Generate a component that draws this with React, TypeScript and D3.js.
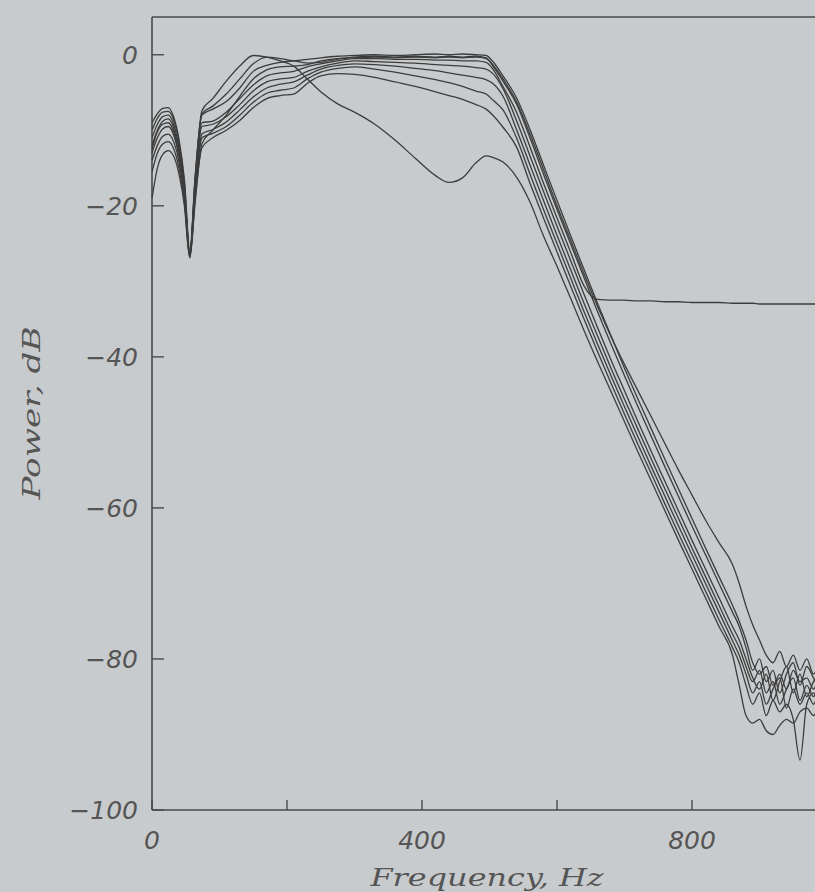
import React from "react";
import * as d3 from "d3";

// Frequency grid (Hz) shared by all spectra
const freq = [
  0, 8, 16, 24, 32, 40, 48, 56, 64, 74,
  90, 110, 130, 150, 170, 190, 210, 230, 250, 275,
  300, 330, 360, 390, 420, 440, 460, 480, 495, 505,
  520, 540, 560, 580, 600, 620, 640, 660, 680, 700,
  720, 740, 760, 780, 800, 820, 840, 860, 870, 880,
  890, 900, 910, 920, 930, 940, 950, 960, 970, 980,
  990, 1000,
];

// Power (dB) of each spectrum
const s1 = [
  -9, -7.8, -7.1, -7, -8.2, -11.2, -16.5, -26, -16, -8,
  -7.2, -6.2, -4.4, -2.2, -1.4, -1.0, -0.8, -0.6, -0.4, -0.2,
  -0.1, 0, -0.1, 0, 0.1, 0, 0.1, 0, -0.1, -0.9,
  -2.8, -5.7, -9.9, -14.6, -19.3, -23.9, -28.4, -32.9, -37.2, -41.5,
  -45.6, -49.6, -53.6, -57.5, -61.4, -65.3, -69.1, -72.9, -75, -77.5,
  -80.5, -82, -81, -83.5, -82, -84, -81.5, -83, -82.5, -84,
  -82, -83,
];
const s2 = [
  -10, -8.4, -7.6, -7.5, -8.6, -11.6, -17, -26.2, -16.5, -7.8,
  -6.8, -5.2, -3.2, -1.2, -0.3, -0.5, -0.8, -1.1, -1.0, -0.6,
  -0.3, -0.2, -0.3, -0.2, -0.3, -0.2, -0.3, -0.2, -0.4, -1.5,
  -3.5, -6.5, -11, -15.8, -20.5, -25, -29.5, -34, -38.3, -42.5,
  -46.6, -50.6, -54.6, -58.5, -62.4, -66.2, -70, -73.8, -75.7, -78.5,
  -81.5, -80, -83, -81.5, -84.5, -82, -80.5, -83.5, -81, -82.5,
  -84, -82,
];
const s3 = [
  -11, -9.2, -8.2, -8, -9.2, -12.3, -17.5, -26.4, -17, -9,
  -8.8, -7.6, -5.8, -4, -2.8, -2.4, -2.2, -1.6, -1.2, -0.8,
  -0.5, -0.5, -0.6, -0.6, -0.7, -0.7, -0.8, -0.8, -1.0, -1.9,
  -4.2, -7.6, -12.2, -17, -21.6, -26.1, -30.6, -32.4, -32.5, -32.5,
  -32.6, -32.6, -32.7, -32.7, -32.8, -32.8, -32.8, -32.9, -32.9, -32.9,
  -32.9, -33, -33, -33, -33, -33, -33, -33, -33, -33,
  -33, -33,
];
const s4 = [
  -12, -10, -8.8, -8.5, -9.7, -12.8, -18, -26.5, -17.5, -9.5,
  -9.2, -8.2, -6.6, -4.8, -3.6, -3.2, -3.0, -2.2, -1.6, -1.1,
  -0.8, -0.9, -1.0, -1.1, -1.3, -1.4, -1.5, -1.7, -1.9, -2.5,
  -4.5, -8.7, -13.4, -18.1, -22.7, -27.2, -31.7, -36.1, -40.4, -44.5,
  -48.6, -52.6, -56.5, -60.4, -64.3, -68.1, -71.9, -75.7, -77.5, -80,
  -82.5, -84, -82, -85.5, -83, -81, -84.5, -82, -85, -83,
  -82, -84,
];
const s5 = [
  -13, -11, -9.8, -9.5, -10.6, -13.5, -18.5, -26.6, -18, -10.5,
  -9.9, -8.9, -7.3, -5.6, -4.4, -3.9, -3.6, -2.7, -1.9, -1.4,
  -1.2, -1.3, -1.5, -1.8, -2.1, -2.4, -2.7, -3.0, -3.3, -3.8,
  -5.5, -9.9, -14.6, -19.3, -23.9, -28.4, -32.9, -37.2, -41.5, -45.6,
  -49.6, -53.6, -57.5, -61.4, -65.3, -69.1, -72.9, -76.7, -78.5, -81,
  -83, -81.5, -84.5, -83, -86, -84, -82.5, -85.5, -83.5, -85,
  -83, -84,
];
const s6 = [
  -14, -12, -10.8, -10.5, -11.5, -14.2, -19, -26.7, -18.5, -11,
  -10.4, -9.5, -8, -6.3, -5.1, -4.7, -4.4, -3.2, -2.3, -1.8,
  -1.6, -1.9, -2.3, -2.8, -3.3, -3.7, -4.2, -4.8, -5.2, -6.0,
  -7.3, -11, -15.8, -20.5, -25, -29.5, -34, -38.3, -42.5, -46.6,
  -50.6, -54.6, -58.5, -62.4, -66.2, -70, -73.8, -77.6, -79.5, -82,
  -84.5, -83, -86, -84, -82.5, -86.5, -84, -86, -84.5, -86,
  -84, -85,
];
const s7 = [
  -15.5, -13, -11.8, -11.5, -12.4, -15, -19.5, -26.8, -19, -12.3,
  -11, -10, -8.7, -7, -5.8, -5.4, -5.2, -3.8, -2.8, -2.5,
  -2.6, -3.0, -3.6, -4.2, -4.9, -5.4, -5.9, -6.6, -7.2, -8,
  -9.6, -12.2, -17, -21.6, -26.1, -30.6, -35, -39.3, -43.5, -47.6,
  -51.6, -55.5, -59.5, -63.4, -67.2, -71, -74.8, -78.5, -80.5, -83.5,
  -86, -84.5, -87.5, -85.5, -87, -86, -88, -93.4, -86, -84.5,
  -86, -85,
];
const s8 = [
  -12.5, -10.2, -9.2, -9, -10.2, -13.2, -18.2, -26.3, -16.2, -7.4,
  -5.8, -3.5, -1.5, -0.1, -0.3, -0.8, -1.5, -3.2, -4.9, -6.5,
  -7.6, -9.2, -11.3, -13.7, -16, -16.9, -16.3, -14.3, -13.4, -13.6,
  -14.2, -16.2, -19.5, -24, -28, -32.2, -36.5, -40.6, -44.6, -48.6,
  -52.6, -56.5, -60.4, -64.3, -68.1, -71.9, -75.7, -79.5, -83.5, -87.5,
  -88.5, -88, -89.5, -90, -88.8, -88, -88.5, -87, -86.5, -87.5,
  -86, -87,
];
const s9 = [
  -19, -15, -13.2, -12.7, -13.4, -15.8, -20, -26.9, -19.5, -11.8,
  -10, -8, -5.5, -3.2, -2.0, -1.6, -1.5, -1.3, -0.8, -0.5,
  -0.4, -0.3, -0.4, -0.3, -0.4, -0.3, -0.4, -0.3, -0.5, -1.3,
  -3.2, -6.2, -10.5, -15.2, -20, -24.5, -29, -33.3, -37.3, -41,
  -44.5, -48, -51.5, -55, -58.3, -61.6, -64.6, -67.5, -70, -73,
  -75.5, -77.5, -79.5, -80.5, -79, -81, -79.5, -81.5, -80, -82,
  -80.5, -81,
];

const seriesList = [s1, s2, s3, s4, s5, s6, s7, s8, s9];

const yTickValues = [0, -20, -40, -60, -80, -100];
const xTickValues = [0, 200, 400, 600, 800, 1000];
const xLabelValues = [0, 400, 800];

const fmt = (v: number) => (v < 0 ? "\u2212" + Math.abs(v) : String(v));

export default function App() {
  const W = 815;
  const H = 892;
  const x = d3.scaleLinear().domain([0, 1000]).range([152, 827]);
  const y = d3.scaleLinear().domain([-100, 5]).range([810, 17]);
  const line = d3
    .line<number>()
    .x((_, i) => x(freq[i]))
    .y((d) => y(d))
    .curve(d3.curveMonotoneX);

  const axisColor = "#4a4a4a";
  const textColor = "#555";
  const x0 = x(0);
  const x1 = x(1000);
  const yTop = y(5);
  const yBot = y(-100);

  return (
    <svg
      width={W}
      height={H}
      style={{ position: "absolute", left: 0, top: 0, display: "block" }}
    >
      <rect x={0} y={0} width={W} height={H} fill="#c8cbcd" />

      {/* frame */}
      <line x1={x0} x2={x0} y1={yTop} y2={yBot} stroke={axisColor} strokeWidth={1.6} />
      <line x1={x0} x2={x1} y1={yTop} y2={yTop} stroke={axisColor} strokeWidth={1.6} />
      <line x1={x0} x2={x1} y1={yBot} y2={yBot} stroke={axisColor} strokeWidth={1.6} />
      <line x1={x1} x2={x1} y1={yTop} y2={yBot} stroke={axisColor} strokeWidth={1.6} />

      {/* y ticks */}
      {yTickValues.map((v) => (
        <g key={"yt" + v}>
          <line x1={x0} x2={x0 + 12} y1={y(v)} y2={y(v)} stroke={axisColor} strokeWidth={1.4} />
          <text
            x={138}
            y={y(v)}
            dy="0.36em"
            textAnchor="end"
            fontFamily="DejaVu Sans"
            fontStyle="italic"
            fontSize={25}
            fill={textColor}
          >
            {fmt(v)}
          </text>
        </g>
      ))}

      {/* x ticks */}
      {xTickValues.map((v) => (
        <line
          key={"xt" + v}
          x1={x(v)}
          x2={x(v)}
          y1={yBot}
          y2={yBot - 10}
          stroke={axisColor}
          strokeWidth={1.4}
        />
      ))}
      {xLabelValues.map((v) => (
        <text
          key={"xl" + v}
          x={x(v)}
          y={849}
          textAnchor="middle"
          fontFamily="DejaVu Sans"
          fontStyle="italic"
          fontSize={25}
          fill={textColor}
        >
          {fmt(v)}
        </text>
      ))}

      {/* axis titles */}
      <text
        x={487}
        y={886}
        textAnchor="middle"
        fontFamily="DejaVu Serif"
        fontStyle="italic"
        fontSize={24}
        fill={textColor}
        textLength={233}
        lengthAdjust="spacingAndGlyphs"
      >
        Frequency, Hz
      </text>
      <text
        transform="translate(40,413) rotate(-90)"
        textAnchor="middle"
        fontFamily="DejaVu Serif"
        fontStyle="italic"
        fontSize={24}
        fill={textColor}
        textLength={173}
        lengthAdjust="spacingAndGlyphs"
      >
        Power, dB
      </text>

      {/* spectra */}
      <g fill="none" stroke="#3c3c3c" strokeWidth={1.3} strokeLinejoin="round">
        {seriesList.map((s, i) => (
          <path key={"s" + i} d={line(s) || ""} />
        ))}
      </g>
    </svg>
  );
}
